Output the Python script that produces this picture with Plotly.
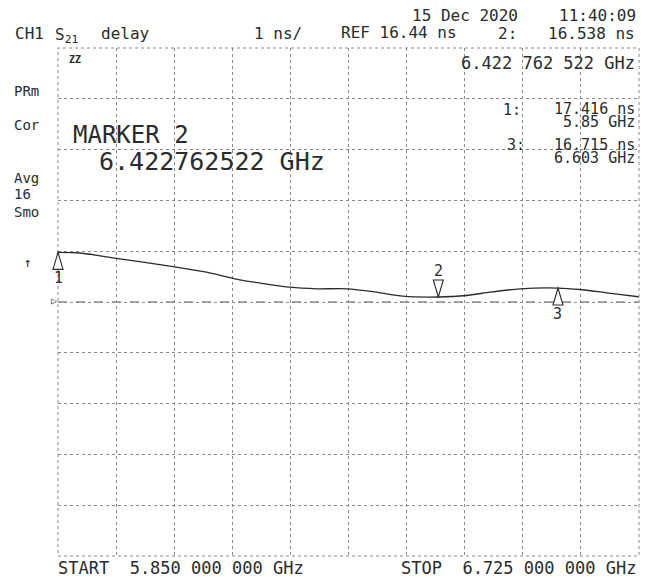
import plotly.graph_objects as go

# ---- data ----
freq_ghz = [5.850, 5.8827, 5.938, 6.0233, 6.0736, 6.1238, 6.1991, 6.2394, 6.2846,
            6.3242, 6.3694, 6.4228, 6.4654, 6.5005, 6.5457, 6.603, 6.6361, 6.6763,
            6.7215, 6.725]
delay_ns = [17.416, 17.405, 17.30, 17.138, 17.026, 16.877, 16.731, 16.70, 16.70,
            16.646, 16.554, 16.538, 16.568, 16.633, 16.70, 16.715, 16.686, 16.621,
            16.548, 16.54]

marker_ids = ["1", "2", "3"]
marker_freq = [5.85, 6.422762522, 6.603]
marker_delay = [17.416, 16.538, 16.715]
active_marker = "2"

ref_ns = 16.44
scale_ns = 1.0
start_ghz = 5.850
stop_ghz = 6.725
n_div = 10

header_left = ["CH1", "S<sub>21</sub>", "delay"]
scale_text = "1 ns/"
ref_text = "REF 16.44 ns"
date_text = "15 Dec 2020"
time_text = "11:40:09"
side_labels = ["PRm", "Cor", "Avg", "16", "Smo"]
start_text = "START  5.850 000 000 GHz"
stop_text = "STOP  6.725 000 000 GHz"

# ---- layout geometry (pixels) ----
W, H = 648, 578
PL, PR, PT, PB = 58.3, 639.0, 48.0, 556.5

def px(x):
    return (x - PL) / (PR - PL)

def py(y):
    return (PB - y) / (PB - PT)

INK = "#2b2b2b"
GRID = "#8a8a8a"
FONT = "DejaVu Sans Mono"

y_lo = ref_ns - scale_ns * n_div / 2
y_hi = ref_ns + scale_ns * n_div / 2
dx = (stop_ghz - start_ghz) / n_div

fig = go.Figure()
fig.add_trace(go.Scatter(
    x=freq_ghz, y=delay_ns, mode="lines",
    line=dict(color=INK, width=1.3, shape="spline", smoothing=0.6),
    hoverinfo="skip", showlegend=False,
))

fig.update_xaxes(
    range=[start_ghz, stop_ghz], tick0=start_ghz, dtick=dx,
    showgrid=True, gridcolor=GRID, griddash="dot", gridwidth=1,
    showticklabels=False, ticks="", zeroline=False, showline=False,
)
fig.update_yaxes(
    range=[y_lo, y_hi], tick0=y_lo, dtick=scale_ns,
    showgrid=True, gridcolor=GRID, griddash="dot", gridwidth=1,
    showticklabels=False, ticks="", zeroline=False, showline=False,
)

shapes = []
# frame
shapes.append(dict(type="rect", xref="paper", yref="paper", x0=0, y0=0, x1=1, y1=1,
                   line=dict(color=GRID, width=1, dash="dot"), layer="above"))
# reference line
shapes.append(dict(type="line", xref="paper", yref="y", x0=0, x1=1, y0=ref_ns, y1=ref_ns,
                   line=dict(color="#555", width=1.2, dash="dash"), layer="below"))
# marker triangles (x given as fraction of the x domain so edge markers are not clipped)
for mid, f, d in zip(marker_ids, marker_freq, marker_delay):
    if mid == active_marker:
        path = "M 0 0 L -5 17 L 5 17 Z"
    else:
        path = "M 0 0 L -5 -17 L 5 -17 Z"
    shapes.append(dict(type="path", xref="x domain", yref="y", xsizemode="pixel", ysizemode="pixel",
                       xanchor=(f - start_ghz) / (stop_ghz - start_ghz), yanchor=d, path=path,
                       line=dict(color=INK, width=1.1), fillcolor="rgba(255,255,255,0.9)"))

annotations = []

def txt(text, x, y, size=16, anchor="left", yanchor="middle"):
    annotations.append(dict(text=text, xref="paper", yref="paper", x=px(x), y=py(y),
                            xanchor=anchor, yanchor=yanchor, showarrow=False,
                            font=dict(family=FONT, size=size, color=INK)))

# marker labels
for mid, f, d in zip(marker_ids, marker_freq, marker_delay):
    shift = 26 if mid == active_marker else -26
    annotations.append(dict(text=mid, xref="x", yref="y", x=f, y=d, yshift=shift,
                            showarrow=False, font=dict(family=FONT, size=15, color=INK)))

# header
txt(header_left[0], 13, 33)
txt(header_left[1], 53, 35)
txt(header_left[2], 99, 33)
txt(scale_text, 252, 33)
txt(ref_text, 339, 32)
txt(date_text, 410, 15)
txt(time_text, 638, 15, anchor="right")
txt("2:", 496, 33)
txt("16.538 ns", 637, 33, anchor="right")
txt("6.422 762 522 GHz", 637, 63, anchor="right", size=17)
txt("1:", 501, 110, size=15)
txt("17.416 ns", 637, 109, anchor="right", size=15)
txt("5.85 GHz", 637, 122, anchor="right", size=15)
txt("3:", 505, 145, size=15)
txt("16.715 ns", 637, 145, anchor="right", size=15)
txt("6.603 GHz", 637, 158, anchor="right", size=15)

# printer glyph in the top-left grid cell
txt("<b>ZZ</b>", 67, 60, size=10)

# side labels
for lab, y in zip(side_labels, [91, 125, 178, 194, 212]):
    txt(lab, 12, y, size=14)
txt("↑", 28, 263, size=13, anchor="center")
txt("▷", 54, 301, size=10, anchor="center")

# big marker readout
txt("MARKER " + active_marker, 71, 135, size=24)
txt("6.422762522 GHz", 97, 162, size=25)

# footer
txt(start_text, 56, 569, size=17)
txt(stop_text, 638, 569, size=17, anchor="right")

fig.update_layout(
    width=W, height=H,
    margin=dict(l=PL, r=W - PR, t=PT, b=H - PB, pad=0),
    paper_bgcolor="white", plot_bgcolor="white",
    shapes=shapes, annotations=annotations, showlegend=False,
)

fig.write_html("out.html", config={"displayModeBar": False},
               post_script="document.body.style.margin='0';document.body.style.padding='0';")
